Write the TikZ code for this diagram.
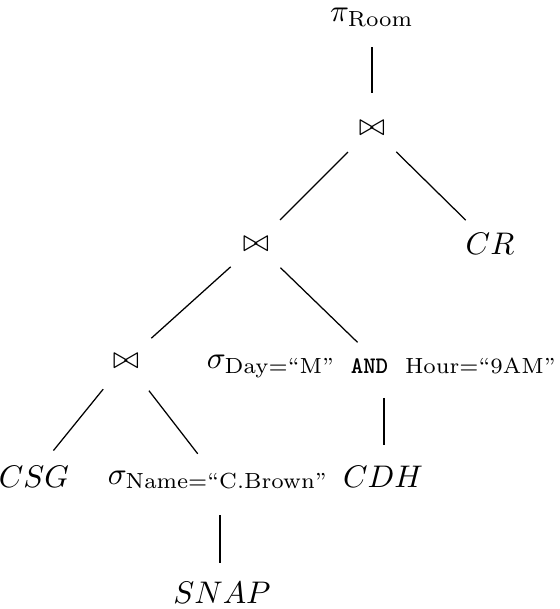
\documentclass[tikz,border=0pt]{standalone}
\usepackage{amsmath}
\begin{document}
\begin{tikzpicture}[x=0.32pt,y=-0.32pt,
  lbl/.style={inner sep=0pt},
  conn/.style={line width=0.4pt,shorten <=#1,shorten >=#1},
  conn/.default=10.9pt]
\useasboundingbox (0,0) rectangle (560,609);
\node[lbl] (pi) at (372,17) {$\pi_{\mathrm{Room}}$};
\node[lbl] (j1) at (372,128) {$\bowtie$};
\node[lbl] (j2) at (256,244) {$\bowtie$};
\node[lbl] (cr) at (490,244) {$CR$};
\node[lbl] (j3) at (126,361) {$\bowtie$};
\node[lbl] (sd) at (382,366) {$\sigma_{\mathrm{Day}=\text{``M''}\text{\ \ {\fontsize{7.6}{8}\selectfont\bfseries\ttfamily AND}\ \ }\mathrm{Hour}=\text{``9AM''}}$};
\node[lbl] (csg) at (34,477) {$CSG$};
\node[lbl] (sn) at (218,480) {$\sigma_{\mathrm{Name}=\text{``C.Brown''}}$};
\node[lbl] (cdh) at (383,477) {$CDH$};
\node[lbl] (snap) at (222,593) {$SNAP$};
\coordinate (sdl) at (384,366);
\coordinate (snl) at (220,480);
\coordinate (snapl) at (220,593);
\coordinate (cdhl) at (384,477);
\coordinate (csgl) at (32,477);
\draw[shorten <=9.6pt,shorten >=11.2pt] (pi.center) -- (j1.center);
\draw[conn] (j1.center) -- (j2.center);
\draw[conn] (j1.center) -- (cr.center);
\draw[conn] (j2.center) -- (j3.center);
\draw[conn] (j2.center) -- (sd.center);
\draw[shorten <=11.6pt,shorten >=10.9pt] (j3.center) -- (csgl);
\draw[shorten <=12pt,shorten >=10.6pt] (j3.center) -- (sn.center);
\draw[conn=10.2pt] (sdl) -- (cdhl);
\draw[shorten <=11.2pt,shorten >=9.6pt] (snl) -- (snapl);
\end{tikzpicture}
\end{document}
